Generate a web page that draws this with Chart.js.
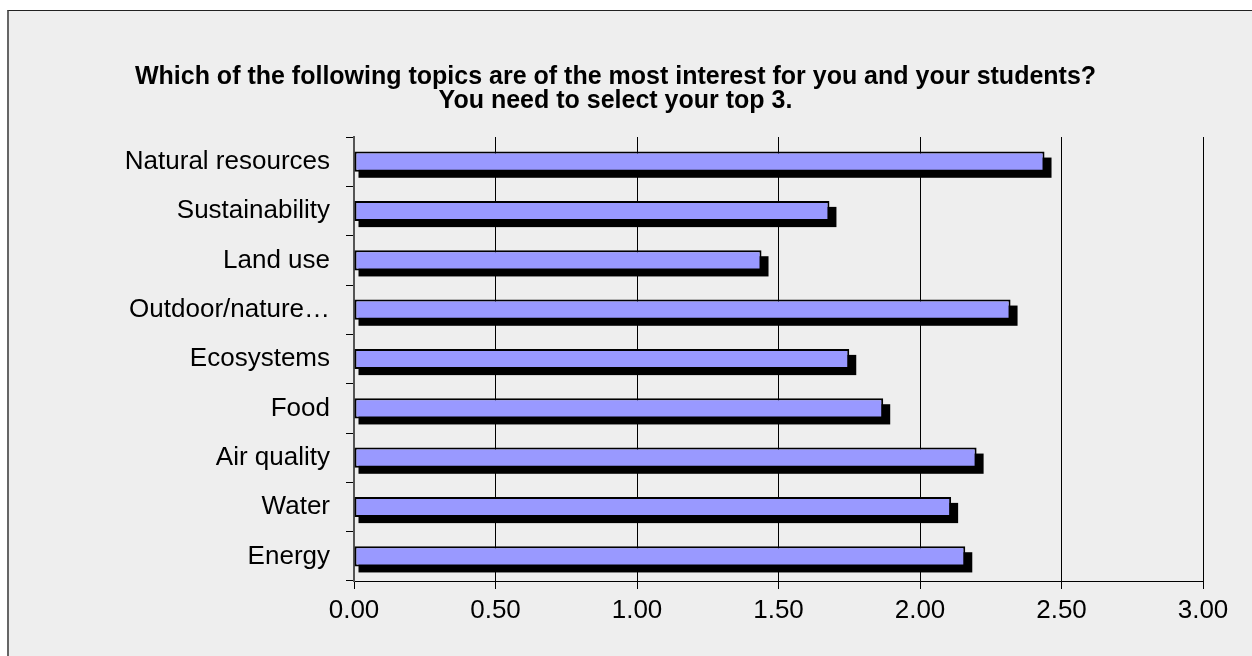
<!DOCTYPE html>
<html>
<head>
<meta charset="utf-8">
<title>Topics of interest</title>
<script src="https://cdn.jsdelivr.net/npm/chart.js@4/dist/chart.umd.min.js"></script>
<style>
  html, body { margin: 0; padding: 0; background: #fff; overflow: hidden; }
  .frame {
    position: absolute; left: 7px; top: 10px; width: 1245px; height: 646px;
    background: #eeeeee; border-top: 1px solid #222; border-left: 2px solid #666;
  }
  #topics { position: absolute; left: 0; top: 0; }
</style>
</head>
<body>
<div class="frame"></div>
<canvas id="topics" width="1252" height="656"></canvas>
<script>
/* ============== Dados ===========*/

const topics = [
  'Natural resources',
  'Sustainability',
  'Land use',
  'Outdoor/nature\u2026',
  'Ecosystems',
  'Food',
  'Air quality',
  'Water',
  'Energy'
];
const interest = [2.44, 1.68, 1.44, 2.32, 1.75, 1.87, 2.20, 2.11, 2.16];
const xTicks = [0, 0.5, 1, 1.5, 2, 2.5, 3];

const fontFamily = '"Liberation Sans", Arial, Helvetica, sans-serif';

/* ============== Sombra das barras ===========*/

const barShadow = {
  id: 'barShadow',
  beforeDatasetsDraw(chart) {
    const ctx = chart.ctx;
    ctx.save();
    ctx.fillStyle = '#000';
    chart.getDatasetMeta(0).data.forEach(bar => {
      const { x, y, base, height } = bar.getProps(['x', 'y', 'base', 'height'], true);
      const top = y - height / 2;
      ctx.fillRect(base + 4, top + 6, (x + 7) - (base + 4), height);
    });
    ctx.restore();
  }
};

/* ============== Gráfico ===========*/

const graf = document.getElementById('topics');

const data = {
  labels: topics,
  datasets: [{
    data: interest,
    backgroundColor: '#9999ff',
    borderColor: '#000',
    borderWidth: 2,
    borderSkipped: false,
    barPercentage: 0.41,
    categoryPercentage: 1
  }]
};

const config = {
  type: 'bar',
  data,
  plugins: [barShadow],
  options: {
    indexAxis: 'y',
    responsive: false,
    animation: false,
    layout: { padding: { left: 28, right: 49, top: 0, bottom: 20 } },
    plugins: {
      legend: { display: false },
      tooltip: { enabled: false },
      title: {
        display: true,
        text: [
          'Which of the following topics are of the most interest for you and your students?',
          'You need to select your top 3.'
        ],
        color: '#000',
        font: { family: fontFamily, size: 25, weight: 'bold', lineHeight: 0.96 },
        padding: { top: 65, bottom: 24 }
      }
    },
    scales: {
      x: {
        min: 0,
        max: 3,
        afterBuildTicks: scale => { scale.ticks = xTicks.map(v => ({ value: v })); },
        afterFit: scale => { scale.height = 55; },
        ticks: {
          color: '#000',
          padding: 6,
          font: { family: fontFamily, size: 26 },
          callback: v => Number(v).toFixed(2)
        },
        grid: { color: '#000', lineWidth: 1, tickLength: 8, drawTicks: true },
        border: { display: true, color: '#000', width: 1 }
      },
      y: {
        afterFit: scale => { scale.width = 326; },
        ticks: {
          color: '#000',
          padding: 16,
          font: { family: fontFamily, size: 26 }
        },
        grid: { drawOnChartArea: false, drawTicks: true, tickLength: 8, color: '#000', offset: true },
        border: { display: true, color: '#555', width: 2 }
      }
    }
  }
};

const myChart = new Chart(graf, config);
</script>
</body>
</html>
